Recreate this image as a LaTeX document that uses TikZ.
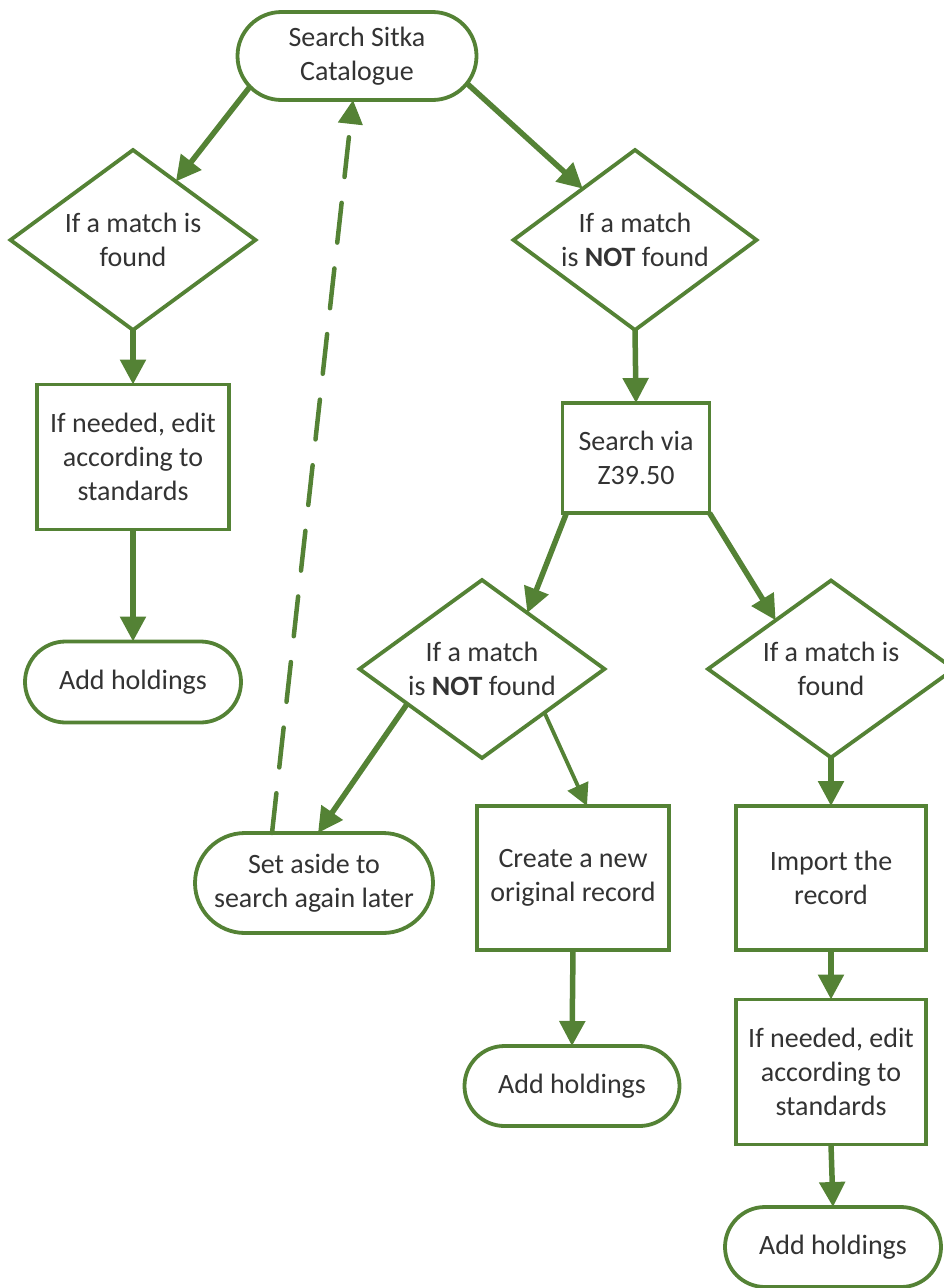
\documentclass[tikz,border=0pt]{standalone}
\usepackage{fontspec}
\setmainfont{Carlito}
\usetikzlibrary{shapes.geometric,shapes.misc,arrows.meta,calc}
\definecolor{fgreen}{HTML}{548235}
\definecolor{ftext}{HTML}{333333}
\begin{document}
\begin{tikzpicture}[x=1pt,y=-1pt,
  every node/.style={outer sep=0pt, inner sep=0pt, text=ftext, align=center,
     font=\fontsize{28}{34}\selectfont},
  term/.style={rounded rectangle, draw=fgreen, line width=3.8pt, fill=white},
  procbox/.style={rectangle, draw=fgreen, line width=3.8pt, fill=white},
  decide/.style={diamond, draw=fgreen, line width=3.8pt, fill=white, aspect=1.36},
  arr/.style={draw=fgreen, line width=5.5pt, -{Triangle[length=25pt,width=25pt]}},
  arrthin/.style={draw=fgreen, line width=3.8pt, -{Triangle[length=22pt,width=22pt]}},
  dasharr/.style={draw=fgreen, line width=4.5pt, line cap=round,
     dash pattern=on 40pt off 26pt, -{Triangle[length=24pt,width=24pt]}}
]
\useasboundingbox (0,0) rectangle (944,1288);

\node[term, minimum width=239pt, minimum height=88pt] (search) at (357,56) {Search Sitka\\Catalogue};
\node[decide, minimum width=245pt, minimum height=180pt] (d1) at (133,240) {If a match is\\found};
\node[decide, minimum width=243pt, minimum height=180pt] (d2) at (635,240) {If a match\\is \textbf{NOT} found};
\node[procbox, minimum width=192pt, minimum height=145pt] (edit1) at (133,457) {If needed, edit\\according to\\standards};
\node[term, minimum width=216pt, minimum height=81pt] (add1) at (133,682) {Add holdings};
\node[procbox, minimum width=147pt, minimum height=110pt] (z39) at (636,458) {Search via\\Z39.50};
\node[decide, minimum width=245pt, minimum height=178pt] (d3) at (482,669) {If a match\\is \textbf{NOT} found};
\node[decide, minimum width=246pt, minimum height=177pt] (d4) at (831,669) {If a match is\\found};
\node[term, minimum width=238pt, minimum height=100pt] (setaside) at (314,883) {Set aside to\\search again later};
\node[procbox, minimum width=192pt, minimum height=144pt] (create) at (573,878) {Create a new\\original record};
\node[term, minimum width=215pt, minimum height=80pt] (add2) at (572,1086) {Add holdings};
\node[procbox, minimum width=190pt, minimum height=144pt] (import) at (831,878) {Import the\\record};
\node[procbox, minimum width=190pt, minimum height=145pt] (edit2) at (831,1072) {If needed, edit\\according to\\standards};
\node[term, minimum width=216pt, minimum height=80pt] (add3) at (833,1247) {Add holdings};

\draw[arr] (search.196) -- ($(d1.north)!0.35!(d1.east)$);
\draw[arr] (search.346) -- ($(d2.north)!0.43!(d2.west)$);
\draw[arr] (d1.south) -- (edit1.north);
\draw[arr] (edit1.south) -- (add1.north);
\draw[arr] (d2.south) -- (z39.north);
\draw[arr] ($(z39.south west)+(4,0)$) -- ($(d3.north)!0.37!(d3.east)$);
\draw[arr] (z39.south east) -- ($(d4.north)!0.45!(d4.west)$);
\draw[arr] ($(d3.west)!0.39!(d3.south)$) -- ($(setaside.north)+(4,0)$);
\draw[arrthin] ($(d3.east)!0.49!(d3.south)$) -- ($(create.north)+(14,0)$);
\draw[arr] (create.south) -- (add2.north);
\draw[arr] (d4.south) -- (import.north);
\draw[arr] (import.south) -- (edit2.north);
\draw[arr] (edit2.south) -- (add3.north);
\draw[dasharr] ($(setaside.north)+(-42,0)$) -- ($(search.south)+(-4,0)$);
\end{tikzpicture}
\end{document}
